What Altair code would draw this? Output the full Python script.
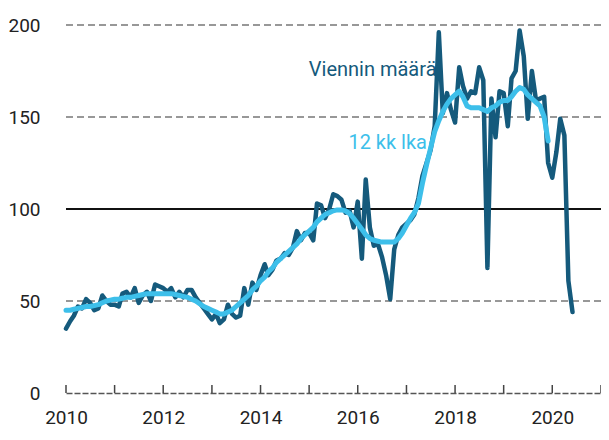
import altair as alt
import pandas as pd

# ---- data ----
start_month = "2010-01-01"

export_volume = [
    35, 39, 42, 47, 46, 51, 49, 45, 46, 53, 50, 48,          # 2010
    48, 47, 54, 55, 52, 57, 49, 53, 55, 50, 59, 58,          # 2011
    57, 55, 57, 52, 55, 52, 56, 56, 52, 49, 46, 43,          # 2012
    40, 43, 38, 40, 48, 43, 41, 42, 57, 48, 60, 56,          # 2013
    64, 70, 64, 67, 72, 73, 76, 75, 79, 88, 83, 87,          # 2014
    87, 83, 103, 102, 95, 100, 108, 107, 105, 98, 99, 90,    # 2015
    104, 73, 116, 90, 80, 81, 74, 64, 51, 78, 86, 90,        # 2016
    92, 94, 97, 106, 118, 125, 132, 145, 196, 152, 163, 154, # 2017
    147, 177, 167, 160, 164, 163, 177, 170, 68, 160, 139, 164, # 2018
    163, 145, 171, 175, 197, 183, 149, 175, 159, 160, 161, 125, # 2019
    117, 131, 149, 140, 61, 44,                               # 2020
]

ma12 = [
    45, 45, 45.5, 46, 46.5, 47, 47, 47.5, 48, 49, 50, 50.5,
    51, 51, 51.5, 52, 52, 52.5, 53, 53.5, 54, 54, 54, 54,
    54, 54, 54, 53.5, 53, 52.5, 52, 51, 50, 48.5, 47, 46,
    45, 44, 43, 43, 44, 45, 47, 49, 51, 53, 56, 58,
    61, 63, 66, 68, 71, 73, 75, 77, 79, 81, 84, 86,
    88, 90, 93, 95, 97, 98, 99, 99.5, 99.5, 99, 97.5, 95,
    92, 89, 86, 84, 83, 82.5, 82, 82, 82, 82, 84, 87,
    91, 95, 98, 103, 114, 124, 133, 142, 148, 153, 157, 160,
    162, 164, 161, 156, 155, 155, 155, 154, 153, 155, 156, 158,
    159, 159, 161, 164, 166, 165, 162, 160, 158, 156, 150, 137,
]

grid_dashed = [50, 150, 200]
grid_solid = [100]
y_ticks = [0, 50, 100, 150, 200]
tick_years = list(range(2010, 2022))
label_years = [2010, 2012, 2014, 2016, 2018, 2020]

annotations = pd.DataFrame({
    "date": pd.to_datetime(["2016-04-22", "2016-08-13"]),
    "value": [175.5, 136],
    "text": ["Viennin määrä", "12 kk lka"],
    "color": ["#155a7c", "#3dbfea"],
})

# ---- tables ----
months = pd.date_range(start_month, periods=len(export_volume), freq="MS")
df = pd.DataFrame({"date": months, "value": export_volume})
ma_df = pd.DataFrame({"date": months[: len(ma12)], "value": ma12})
ticks_df = pd.DataFrame({"date": pd.to_datetime([f"{y}-01-01" for y in tick_years])})
gd_df = pd.DataFrame({"v": grid_dashed})
gs_df = pd.DataFrame({"v": grid_solid})

FONT = "Roboto, Liberation Sans, sans-serif"
DARK = "#155a7c"
LIGHT = "#3dbfea"

x_scale = alt.Scale(domain=[alt.DateTime(year=2010, month=1, date=1),
                            alt.DateTime(year=2021, month=1, date=1)])
y_scale = alt.Scale(domain=[0, 200])

x_axis = alt.Axis(
    values=[alt.DateTime(year=y, month=1, date=1) for y in label_years],
    format="%Y", title=None, grid=False, ticks=False, labelFlush=False,
    domainColor="#555555", domainDash=[6, 2], domainWidth=1.5,
    labelFont=FONT, labelFontSize=19, labelColor="#222222", labelPadding=15,
)
y_axis = alt.Axis(
    values=y_ticks, title=None, grid=False, ticks=False, domain=False,
    labelFont=FONT, labelFontSize=19, labelColor="#222222", labelPadding=26,
)

base_x = alt.X("date:T", scale=x_scale, axis=x_axis)

grid_d = alt.Chart(gd_df).mark_rule(strokeDash=[7, 4], color="#777777", strokeWidth=1.5).encode(
    y=alt.Y("v:Q", scale=y_scale, axis=y_axis)
)
grid_s = alt.Chart(gs_df).mark_rule(color="#111111", strokeWidth=2).encode(
    y=alt.Y("v:Q", scale=y_scale)
)
tick_marks = alt.Chart(ticks_df).mark_rule(color="#444444", strokeWidth=1.5).encode(
    x=alt.X("date:T", scale=x_scale, axis=x_axis),
    y=alt.value(368), y2=alt.value(360),
)
dark_line = alt.Chart(df).mark_line(color=DARK, strokeWidth=4.5, strokeJoin="round", strokeCap="round").encode(
    x=base_x, y=alt.Y("value:Q", scale=y_scale)
)
light_line = alt.Chart(ma_df).mark_line(color=LIGHT, strokeWidth=5, strokeJoin="round", strokeCap="round").encode(
    x=base_x, y=alt.Y("value:Q", scale=y_scale)
)
labels = alt.Chart(annotations).mark_text(font=FONT, fontSize=20, align="center", baseline="middle").encode(
    x=base_x, y=alt.Y("value:Q", scale=y_scale),
    text="text:N", color=alt.Color("color:N", scale=None),
)

chart = alt.layer(grid_d, grid_s, tick_marks, dark_line, light_line, labels).properties(
    width=535, height=368,
    autosize=alt.AutoSizeParams(type="none"),
    padding={"left": 58, "top": 17, "right": 0, "bottom": 38},
).configure_view(stroke=None)

chart.save("out.html", embed_options={"renderer": "svg", "actions": False})
